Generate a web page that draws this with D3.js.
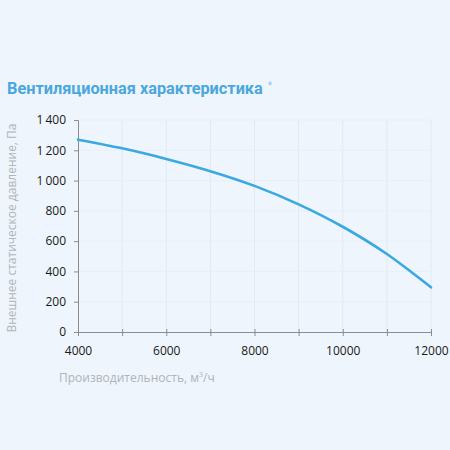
<!DOCTYPE html>
<html><head><meta charset="utf-8">
<script src="https://cdn.jsdelivr.net/npm/d3@7"></script>
<style>
html,body{margin:0;padding:0;background:#eef5fc;}
svg{display:block;}
</style></head>
<body>
<svg id="chart" width="450" height="450"></svg>
<script>
const flow = [4000, 5000, 6000, 7000, 8000, 9000, 10000, 11000, 12000];
const pressure = [1270, 1213, 1143, 1062, 965, 843, 695, 515, 295];
const xTicks = [4000, 6000, 8000, 10000, 12000];
const xMinorTicks = [5000, 7000, 9000, 11000];
const yTicks = [0, 200, 400, 600, 800, 1000, 1200, 1400];
const title = "Вентиляционная характеристика";
const yLabel = "Внешнее статическое давление, Па";
const xLabel = "Производительность, м";

const svg = d3.select("#chart");
svg.append("rect").attr("width",450).attr("height",450).attr("fill","#eef5fc");
const m = {l:78, r:19, t:120, b:118};
const W = 450, H = 450;
const x = d3.scaleLinear().domain([4000,12000]).range([m.l, W-m.r]);
const y = d3.scaleLinear().domain([0,1400]).range([H-m.b, m.t]);

// grid
const g = svg.append("g");
g.selectAll(".vg").data(xTicks.concat(xMinorTicks).filter(d=>d>4000)).join("line")
  .attr("x1",d=>x(d)).attr("x2",d=>x(d)).attr("y1",y(1400)).attr("y2",y(0))
  .attr("stroke","#e1e9f2").attr("stroke-width",1);
g.selectAll(".hg").data(yTicks.filter(d=>d>0)).join("line")
  .attr("x1",x(4000)).attr("x2",x(12000)).attr("y1",d=>y(d)).attr("y2",d=>y(d))
  .attr("stroke","#e8eff7").attr("stroke-width",1);

// axes
const fmtY = d => d >= 1000 ? d3.format(",")(d).replace(",", "\u2009") : String(d);
const yAxis = d3.axisLeft(y).tickValues(yTicks).tickSize(4).tickPadding(8).tickFormat(fmtY);
const ya = svg.append("g").attr("transform",`translate(${m.l},0)`).call(yAxis);
const xAxis = d3.axisBottom(x).tickValues(xTicks.concat(xMinorTicks)).tickSize(4).tickPadding(10)
  .tickFormat(d => xTicks.includes(d) ? String(d) : "");
const xa = svg.append("g").attr("transform",`translate(0,${y(0)})`).call(xAxis);
xa.selectAll(".tick line").attr("y1",-3);
[ya, xa].forEach(a=>{
  a.select(".domain").attr("stroke","#8c8c8c");
  a.selectAll(".tick line").attr("stroke","#8c8c8c");
  a.selectAll(".tick text").attr("fill","#1a1a1a").attr("font-family","Open Sans, Liberation Sans, sans-serif").attr("font-size",12);
});

// line
const line = d3.line().x((d,i)=>x(flow[i])).y(d=>y(d)).curve(d3.curveCatmullRom.alpha(0.5));
svg.append("path").datum(pressure).attr("d",line)
  .attr("fill","none").attr("stroke","#3aa8e2").attr("stroke-width",2.6).attr("stroke-linecap","round");

// title
const t = svg.append("text").attr("x",7).attr("y",94)
  .attr("font-family","Roboto, sans-serif").attr("font-weight","bold").attr("font-size",16.3)
  .attr("fill","#4aa7df").text(title);
t.append("tspan").attr("font-size",10).attr("font-weight","normal").attr("fill","#8cc6ea").attr("dy",-5).attr("dx",5).text("*");

// y label
svg.append("text").attr("transform",`translate(16,${(y(0)+y(1400))/2 + 2}) rotate(-90)`)
  .attr("text-anchor","middle").attr("font-family","Open Sans, Liberation Sans, sans-serif")
  .attr("font-size",12).attr("fill","#b0b4b8").text(yLabel);

// x label
const xl = svg.append("text").attr("x",59).attr("y",382)
  .attr("font-family","Open Sans, Liberation Sans, sans-serif").attr("font-size",12).attr("fill","#b0b4b8").text(xLabel);
xl.append("tspan").attr("font-size",7).attr("dy",-5).text("3");
xl.append("tspan").attr("dy",5).text("/ч");
</script>
</body></html>
